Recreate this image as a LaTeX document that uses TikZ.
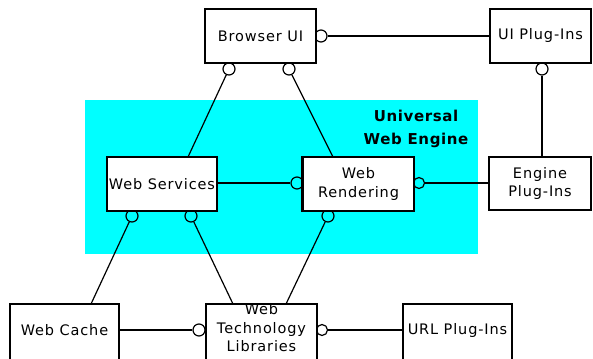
\documentclass[tikz,border=0pt]{standalone}
\usepackage{fontspec}
\setmainfont{DejaVu Sans}
\newfontfamily\boxfont{DejaVu Sans}[LetterSpace=6]
\newfontfamily\titlefont{DejaVu Sans}[LetterSpace=4]
\definecolor{enginecyan}{RGB}{0,255,255}

\tikzset{
  box/.style={draw, fill=white, line width=1.3pt, inner sep=0pt,
    font=\boxfont\fontsize{14.5}{18.5}\selectfont, align=center},
  lbl/.style={font=\boxfont\fontsize{14.5}{18.5}\selectfont, align=center, inner sep=0pt},
  sock/.style={circle, draw, line width=1.2pt, minimum size=12pt, inner sep=0pt},
  wire/.style={line width=1.2pt},
}

\begin{document}
\begin{tikzpicture}[x=1pt, y=-1pt]
  \clip (0,0) rectangle (593,358);
  \fill[white] (0,0) rectangle (593,358);

  % engine region
  \fill[enginecyan] (85,100) rectangle (478,254);
  \node[font=\titlefont\bfseries\fontsize{15}{23}\selectfont, align=center] (title) at (416,129)
    {Universal\\Web Engine};

  % interface sockets (boxes are drawn over their inner halves)
  \node[sock] (s1) at (321,36) {};
  \node[sock] (s2) at (229,69) {};
  \node[sock] (s3) at (289,69) {};
  \node[sock] (s4) at (542,69) {};
  \node[sock] (s5) at (297,183) {};
  \node[sock, minimum size=11pt] (s6) at (419,183) {};
  \node[sock] (s7) at (132,216) {};
  \node[sock] (s8) at (191,216) {};
  \node[sock] (s9) at (328,216) {};
  \node[sock] (s10) at (199,330) {};
  \node[sock, minimum size=11pt] (s11) at (322,330) {};

  % components
  \node[box, minimum width=111pt, minimum height=54pt] (bui) at (260.5,36) {Browser UI};
  \node[box, minimum width=101pt, minimum height=54pt] (uip) at (540.5,36) {UI Plug-Ins};
  \node[box, minimum width=110pt, minimum height=54pt] (ws) at (162,184) {Web Services};
  \node[box, minimum width=111pt, minimum height=54pt] (wr) at (358.5,184) {Web\\Rendering};
  \draw[line width=2.6pt] (wr.north west) -- (wr.south west);
  \node[box, minimum width=102pt, minimum height=53pt] (ep) at (540,183.5) {Engine\\Plug-Ins};
  \node[box, minimum width=109pt, minimum height=62pt,
        label={[lbl, yshift=5pt]center:Web Cache}] (wc) at (64.5,335) {};
  \node[box, minimum width=111pt, minimum height=62pt,
        label={[lbl, yshift=7pt]center:Web\\Technology\\Libraries}] (wtl) at (261.5,335) {};
  \node[box, minimum width=109pt, minimum height=62pt,
        label={[lbl, yshift=5pt]center:URL Plug-Ins}] (url) at (457.5,335) {};

  % attachment points on box edges
  \coordinate (ws-top) at (188,157);
  \coordinate (wr-top) at (333,157);
  \coordinate (ep-top) at (542,157);
  \coordinate (wc-top) at (91,304);
  \coordinate (wtl-top1) at (233,304);
  \coordinate (wtl-top2) at (286,304);

  % connectors
  \draw[wire] (s1) -- (s1 -| uip.west);
  \draw[wire] (s2) -- (ws-top);
  \draw[wire] (s3) -- (wr-top);
  \draw[wire] (s4) -- (ep-top);
  \draw[wire] (ws.east |- s5) -- (s5);
  \draw[wire] (s6) -- (s6 -| ep.west);
  \draw[wire] (s7) -- (wc-top);
  \draw[wire] (s8) -- (wtl-top1);
  \draw[wire] (s9) -- (wtl-top2);
  \draw[wire] (wc.east |- s10) -- (s10);
  \draw[wire] (s11) -- (s11 -| url.west);
\end{tikzpicture}
\end{document}
